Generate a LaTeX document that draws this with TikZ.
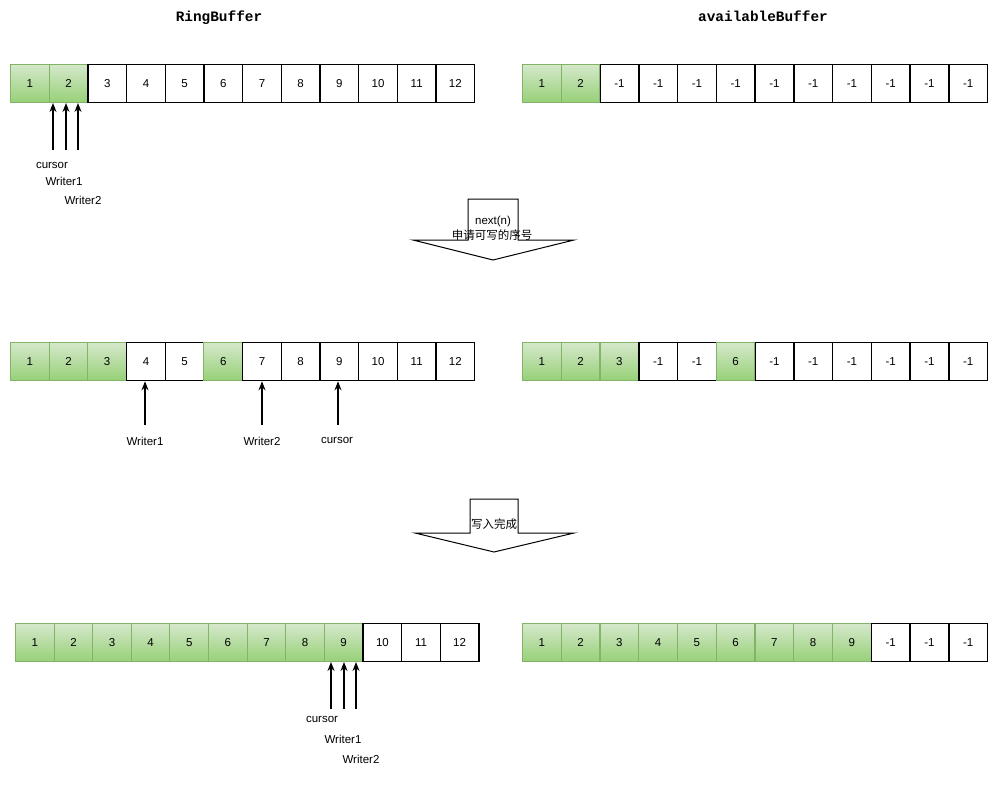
\documentclass[tikz,border=0pt]{standalone}
\usepackage{fontspec}
\setmainfont{Liberation Sans}
\newfontfamily\cjk{Noto Sans CJK SC}
\newfontfamily\monob{Liberation Mono}
\usetikzlibrary{arrows.meta}
\definecolor{gtop}{RGB}{213,232,203}
\definecolor{gbot}{RGB}{151,208,119}
\definecolor{gline}{RGB}{130,179,102}
\tikzset{
  wcell/.style={draw=black, line width=1.3pt, fill=white, minimum width=38.7pt, minimum height=38pt, inner sep=0pt, anchor=north west, font=\fontsize{11.5}{13}\selectfont},
  gcell/.style={draw=gline, line width=1pt, top color=gtop, bottom color=gbot, minimum width=38.7pt, minimum height=38pt, inner sep=0pt, anchor=north west, font=\fontsize{11.5}{13}\selectfont},
  ptr/.style={line width=1.4pt, -{Stealth[length=9pt,width=7pt]}},
  lbl/.style={inner sep=0pt, font=\fontsize{11.5}{13}\selectfont},
  ttl/.style={inner sep=0pt, anchor=base, font=\fontsize{14.4}{16}\selectfont\monob\bfseries},
  blockarrow/.style={draw=black, line width=1pt, fill=white, line join=miter},
  btxt/.style={inner sep=0pt, font=\fontsize{11.5}{13}\selectfont, align=center}
}
\begin{document}
\begin{tikzpicture}[x=1pt,y=-1pt]
\useasboundingbox (0,0) rectangle (1000,789);
% titles
\node[ttl] (t1) at (219,22) {RingBuffer};
\node[ttl] (t2) at (763,22) {availableBuffer};
% row 1
\foreach \t/\s [count=\i] in {1/gcell,2/gcell,3/wcell,4/wcell,5/wcell,6/wcell,7/wcell,8/wcell,9/wcell,10/wcell,11/wcell,12/wcell}
  \node[\s] (a\i) at ({10+(\i-1)*38.67},64) {\t};
\foreach \t/\s [count=\i] in {1/gcell,2/gcell,-1/wcell,-1/wcell,-1/wcell,-1/wcell,-1/wcell,-1/wcell,-1/wcell,-1/wcell,-1/wcell,-1/wcell}
  \node[\s] (b\i) at ({522+(\i-1)*38.75},64) {\t};
% row 2
\foreach \t/\s [count=\i] in {1/gcell,2/gcell,3/gcell,4/wcell,5/wcell,6/gcell,7/wcell,8/wcell,9/wcell,10/wcell,11/wcell,12/wcell}
  \node[\s] (c\i) at ({10+(\i-1)*38.67},342) {\t};
\foreach \t/\s [count=\i] in {1/gcell,2/gcell,3/gcell,-1/wcell,-1/wcell,6/gcell,-1/wcell,-1/wcell,-1/wcell,-1/wcell,-1/wcell,-1/wcell}
  \node[\s] (d\i) at ({522+(\i-1)*38.75},342) {\t};
% row 3
\foreach \t/\s [count=\i] in {1/gcell,2/gcell,3/gcell,4/gcell,5/gcell,6/gcell,7/gcell,8/gcell,9/gcell,10/wcell,11/wcell,12/wcell}
  \node[\s] (e\i) at ({15+(\i-1)*38.6},623) {\t};
\foreach \t/\s [count=\i] in {1/gcell,2/gcell,3/gcell,4/gcell,5/gcell,6/gcell,7/gcell,8/gcell,9/gcell,-1/wcell,-1/wcell,-1/wcell}
  \node[\s] (f\i) at ({522+(\i-1)*38.75},623) {\t};
% row 1 pointers
\coordinate (p1) at (53,150);
\coordinate (p2) at (66,150);
\coordinate (p3) at (78,150);
\draw[ptr] (p1) -- (p1 |- a2.south);
\draw[ptr] (p2) -- (p2 |- a2.south);
\draw[ptr] (p3) -- (p3 |- a2.south);
\node[lbl] (l1) at (52,165) {cursor};
\node[lbl] (l2) at (64,181) {Writer1};
\node[lbl] (l3) at (83,200) {Writer2};
% row 2 pointers
\coordinate (q1) at (145,425);
\coordinate (q2) at (262,425);
\coordinate (q3) at (338,425);
\draw[ptr] (q1) -- (q1 |- c4.south);
\draw[ptr] (q2) -- (q2 |- c7.south);
\draw[ptr] (q3) -- (q3 |- c9.south);
\node[lbl] (m1) at (145,441) {Writer1};
\node[lbl] (m2) at (262,441) {Writer2};
\node[lbl] (m3) at (337,440) {cursor};
% row 3 pointers
\coordinate (r1) at (331,709);
\coordinate (r2) at (344,709);
\coordinate (r3) at (356,709);
\draw[ptr] (r1) -- (r1 |- e9.south);
\draw[ptr] (r2) -- (r2 |- e9.south);
\draw[ptr] (r3) -- (r3 |- e9.south);
\node[lbl] (n1) at (322,719) {cursor};
\node[lbl] (n2) at (343,739) {Writer1};
\node[lbl] (n3) at (361,759) {Writer2};
% block arrows
\draw[blockarrow] (468,240) -- (468,199) -- (518,199) -- (518,240) -- (574,240) -- (493,260) -- (413,240) -- cycle;
\node[btxt] (s1) at (493,222) {next(n)};
\node[btxt] (s2) at (492,235) {\cjk 申请可写的序号};
\draw[blockarrow] (470,533) -- (470,499) -- (518,499) -- (518,533) -- (574,533) -- (494,552) -- (415,533) -- cycle;
\node[btxt] (s3) at (494,524) {\cjk 写入完成};
\end{tikzpicture}
\end{document}
